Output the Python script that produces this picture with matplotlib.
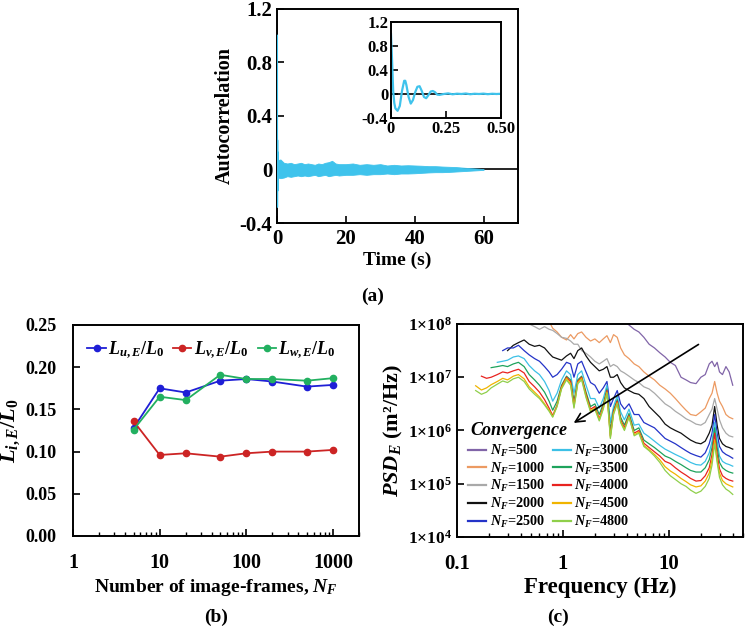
import numpy as np
import matplotlib
matplotlib.use("Agg")
import matplotlib.pyplot as plt
from matplotlib.ticker import FuncFormatter, LogLocator, NullFormatter, NullLocator

plt.rcParams['font.family'] = ['Liberation Serif', 'DejaVu Serif']
plt.rcParams['font.weight'] = 'bold'
plt.rcParams['axes.labelweight'] = 'bold'
plt.rcParams['mathtext.fontset'] = 'custom'
plt.rcParams['mathtext.rm'] = 'Liberation Serif:bold'
plt.rcParams['mathtext.it'] = 'Liberation Serif:italic:bold'
plt.rcParams['mathtext.bf'] = 'Liberation Serif:bold'
plt.rcParams['mathtext.default'] = 'it'
plt.rcParams['axes.linewidth'] = 1.4

# ---------------- (a) autocorrelation ----------------
# inset: short-lag autocorrelation
lag_t = [0, 0.005, 0.01, 0.015, 0.02, 0.03, 0.04, 0.05, 0.06, 0.065, 0.07, 0.08,
         0.09, 0.1, 0.11, 0.12, 0.13, 0.14, 0.15, 0.16, 0.17, 0.18, 0.19, 0.2,
         0.21, 0.22, 0.24, 0.26, 0.28, 0.3, 0.32, 0.34, 0.36, 0.38, 0.4, 0.42,
         0.44, 0.46, 0.48, 0.5]
lag_r = [1.0, 0.55, 0.05, -0.15, -0.24, -0.28, -0.2, 0.05, 0.22, 0.22, 0.15, -0.05,
         -0.16, -0.1, 0.03, 0.12, 0.13, 0.05, -0.05, -0.07, -0.02, 0.04, 0.05, 0.03,
         -0.01, -0.015, 0.0, 0.01, -0.005, 0.005, 0.0, 0.008, -0.004, 0.004, 0.0,
         0.006, -0.003, 0.004, 0.0, 0.004]

# envelope of the long-lag fluctuation band
band_t = [0.3, 1, 2, 3, 4, 5, 6, 7, 8, 9, 10, 11, 12, 13, 14, 15, 16, 17, 18, 20,
          22, 24, 26, 28, 30, 32, 34, 36, 38, 40, 42, 44, 46, 48, 50, 52, 54, 56, 58, 60]
band_up = [0.07, 0.075, 0.05, 0.045, 0.05, 0.04, 0.045, 0.05, 0.04, 0.045, 0.04,
           0.035, 0.045, 0.04, 0.05, 0.055, 0.065, 0.045, 0.04, 0.04, 0.045, 0.035,
           0.04, 0.035, 0.04, 0.03, 0.035, 0.03, 0.032, 0.03, 0.028, 0.025, 0.025,
           0.022, 0.02, 0.018, 0.014, 0.01, 0.007, 0.003]
band_lo = [-0.06, -0.065, -0.06, -0.05, -0.055, -0.05, -0.045, -0.05, -0.045, -0.05,
           -0.045, -0.04, -0.05, -0.045, -0.04, -0.05, -0.045, -0.04, -0.045, -0.04,
           -0.04, -0.035, -0.04, -0.035, -0.035, -0.03, -0.035, -0.03, -0.03, -0.028,
           -0.025, -0.022, -0.02, -0.02, -0.018, -0.015, -0.012, -0.009, -0.006, -0.003]

# ---------------- (b) integral length scale ----------------
n_frames = [5, 10, 20, 50, 100, 200, 500, 1000]
Lu = [0.128, 0.175, 0.170, 0.184, 0.186, 0.183, 0.177, 0.179]
Lv = [0.136, 0.096, 0.098, 0.094, 0.098, 0.100, 0.100, 0.102]
Lw = [0.126, 0.165, 0.161, 0.191, 0.186, 0.186, 0.184, 0.187]

# ---------------- (c) PSD (log10 values) ----------------
freq = [0.15, 0.17, 0.19, 0.21, 0.24, 0.27, 0.30, 0.34, 0.38, 0.43,
        0.48, 0.54, 0.60, 0.67, 0.74, 0.80, 0.88, 0.97, 1.08, 1.18,
        1.27, 1.38, 1.50, 1.65, 1.82, 2.0, 2.2, 2.4, 2.6, 2.8,
        3.0, 3.25, 3.5, 3.8, 4.2, 4.7, 5.2, 5.8, 6.5, 7.3,
        8.2, 9.2, 10.3, 11.5, 13, 14.5, 16, 18, 20, 22,
        24, 25.5, 27, 28.5, 30, 32, 34.5, 37, 40]

psd_500 = [8.4, 8.35, 8.4, 8.3, 8.35, 8.3, 8.25, 8.2, 8.25, 8.2,
           8.15, 8.1, 8.05, 7.98, 7.9, 7.85, 7.75, 7.62, 7.55, 7.46,
           7.38, 7.28, 7.22, 7.0, 6.95, 6.9, 6.88, 7.0, 7.05, 7.25,
           7.3, 7.2, 7.28, 7.1, 7.05, 7.2, 7.1, 6.85]
psd_1000 = [8.05, 7.92, 7.85, 7.75, 7.7, 7.8,
            7.72, 7.82, 7.85, 7.75, 7.68, 7.72, 7.65, 7.72, 7.78, 7.65,
            7.8, 7.75, 7.55, 7.42, 7.35, 7.25, 7.2, 7.1, 7.02, 6.95,
            6.85, 6.78, 6.7, 6.6, 6.48, 6.38, 6.3, 6.28, 6.35, 6.42,
            6.6, 6.7, 6.92, 6.7, 6.55, 6.45, 6.3, 6.25, 6.22]
psd_1500 = [8.0, 7.95, 7.9, 7.95, 7.9, 7.88, 7.82, 7.75, 7.73,
            7.68, 7.62, 7.62, 7.5, 7.45, 7.38, 7.3, 7.25, 7.3, 7.35, 7.2,
            7.24, 7.2, 7.12, 7.08, 7.02, 6.95, 6.9, 6.82, 6.78, 6.7,
            6.6, 6.5, 6.44, 6.36, 6.29, 6.22, 6.18, 6.12, 6.1, 6.15,
            6.3, 6.4, 6.6, 6.4, 6.2, 6.05, 5.95, 5.9, 5.88]
psd_2000 = [7.5, 7.6, 7.65, 7.7,
            7.62, 7.58, 7.6, 7.55, 7.45, 7.38, 7.35, 7.32, 7.4, 7.45,
            7.35, 7.5, 7.55, 7.4, 7.28, 7.2, 7.12, 7.15, 7.2, 7.0,
            7.0, 7.05, 6.9, 6.8, 6.75, 6.7, 6.68, 6.6, 6.45, 6.35,
            6.25, 6.12, 6.05, 6.0, 5.95, 5.88, 5.82, 5.77, 5.75, 5.8,
            5.95, 6.1, 6.45, 6.1, 5.85, 5.75, 5.7, 5.68, 5.65]
psd_2500 = [7.5, 7.55, 7.55, 7.6, 7.5,
            7.42, 7.35, 7.3, 7.2, 7.1, 7.0, 7.05, 7.15, 7.28, 7.25,
            7.0, 7.25, 7.3, 7.1, 6.9, 6.85, 6.7, 6.8, 6.92, 6.45,
            6.6, 6.75, 6.5, 6.4, 6.5, 6.3, 6.3, 6.15, 6.1, 6.05,
            5.95, 5.85, 5.8, 5.75, 5.68, 5.62, 5.57, 5.53, 5.5, 5.58,
            5.75, 5.95, 6.3, 5.95, 5.7, 5.6, 5.55, 5.52, 5.48]
psd_3000 = [7.28, 7.3, 7.32, 7.38, 7.4, 7.35,
            7.22, 7.12, 7.05, 6.92, 6.75, 6.55, 6.7, 6.95, 7.12, 7.05,
            6.7, 7.05, 7.12, 6.85, 6.6, 6.6, 6.42, 6.6, 6.85, 6.15,
            6.45, 6.65, 6.35, 6.2, 6.4, 6.1, 6.12, 5.95, 5.88, 5.8,
            5.72, 5.65, 5.6, 5.55, 5.5, 5.45, 5.4, 5.36, 5.35, 5.42,
            5.58, 5.8, 6.15, 5.8, 5.52, 5.42, 5.38, 5.36, 5.33]
psd_3500 = [7.18, 7.2, 7.22, 7.2, 7.25, 7.28, 7.2,
            7.05, 6.95, 6.85, 6.72, 6.55, 6.38, 6.55, 6.85, 7.02, 6.95,
            6.55, 6.95, 7.02, 6.72, 6.45, 6.5, 6.3, 6.5, 6.78, 6.0,
            6.38, 6.58, 6.25, 6.1, 6.32, 6.0, 6.05, 5.82, 5.75, 5.68,
            5.6, 5.52, 5.48, 5.42, 5.36, 5.3, 5.25, 5.22, 5.22, 5.3,
            5.45, 5.68, 6.05, 5.68, 5.4, 5.3, 5.25, 5.22, 5.2]
psd_4000 = [7.02, 6.98, 7.0, 7.05, 7.1, 7.08, 7.12, 7.15, 7.08,
            6.92, 6.82, 6.72, 6.58, 6.42, 6.28, 6.48, 6.82, 7.0, 6.92,
            6.48, 6.92, 7.0, 6.68, 6.4, 6.45, 6.22, 6.45, 6.75, 5.9,
            6.35, 6.55, 6.2, 6.05, 6.28, 5.95, 6.0, 5.76, 5.68, 5.6,
            5.52, 5.42, 5.38, 5.3, 5.22, 5.16, 5.1, 5.05, 5.06, 5.15,
            5.3, 5.55, 5.95, 5.55, 5.28, 5.15, 5.1, 5.07, 5.05]
psd_4500 = [6.84, 6.76, 6.8, 6.86, 6.92, 6.98, 6.95, 7.02, 7.05, 6.97,
            6.82, 6.72, 6.63, 6.5, 6.38, 6.26, 6.46, 6.8, 6.98, 6.88,
            6.44, 6.9, 6.98, 6.64, 6.37, 6.42, 6.2, 6.42, 6.72, 5.87,
            6.32, 6.52, 6.17, 6.02, 6.26, 5.92, 5.97, 5.72, 5.64, 5.55,
            5.45, 5.32, 5.24, 5.18, 5.1, 5.04, 4.98, 4.94, 4.96, 5.05,
            5.2, 5.45, 5.82, 5.45, 5.2, 5.06, 5.0, 4.97, 4.94]
psd_4800 = [6.75, 6.68, 6.72, 6.8, 6.87, 6.93, 6.9, 6.97, 7.0, 6.92,
            6.78, 6.68, 6.6, 6.48, 6.36, 6.25, 6.45, 6.78, 6.95, 6.85,
            6.42, 6.88, 6.95, 6.62, 6.35, 6.4, 6.18, 6.4, 6.7, 5.85,
            6.3, 6.5, 6.15, 6.0, 6.25, 5.9, 5.95, 5.7, 5.62, 5.52,
            5.4, 5.25, 5.15, 5.08, 5.0, 4.95, 4.88, 4.82, 4.86, 4.95,
            5.1, 5.35, 5.75, 5.4, 5.12, 4.98, 4.9, 4.86, 4.8]

psd_labels = ['500', '1000', '1500', '2000', '2500', '3000', '3500', '4000', '4500', '4800']
psd_values = [psd_500, psd_1000, psd_1500, psd_2000, psd_2500,
              psd_3000, psd_3500, psd_4000, psd_4500, psd_4800]
psd_colors = ['#8165a8', '#ec9a62', '#a9a9a9', '#111111', '#2433c8',
              '#3cc0e6', '#1ea35c', '#e8231f', '#f0b400', '#8fcf4a']

cyan = '#3fc3ec'

fig = plt.figure(figsize=(7.46, 6.28), dpi=100)


def style(ax, xsize=13, ysize=13):
    ax.tick_params(direction='in', width=1.2, length=5, top=False, right=False)
    ax.tick_params(axis='x', labelsize=xsize)
    ax.tick_params(axis='y', labelsize=ysize)
    ax.tick_params(which='minor', direction='in', width=1.0, length=3)
    for lab in ax.get_xticklabels() + ax.get_yticklabels():
        lab.set_fontweight('bold')


def acf_fmt(v, _):
    if abs(v) < 1e-9:
        return '0'
    return f'{v:.1f}'


# (a)
axa = fig.add_axes([0.3713, 0.6449, 0.3231, 0.3408])
axa.axhline(0, color='black', lw=1.2, zorder=1)
axa.fill_between(band_t, band_lo, band_up, color=cyan, lw=0.6, zorder=2)
axa.plot(lag_t, lag_r, color=cyan, lw=1.5, zorder=3)
axa.set_xlim(0, 70)
axa.set_ylim(-0.4, 1.2)
axa.set_xticks([0, 20, 40, 60])
axa.set_yticks([-0.4, 0, 0.4, 0.8, 1.2])
axa.yaxis.set_major_formatter(FuncFormatter(acf_fmt))
axa.set_xlabel('Time (s)', fontsize=14, labelpad=2)
axa.set_ylabel('Autocorrelation', fontsize=14.5, labelpad=3)
style(axa, 15, 15)
axa.tick_params(axis='x', pad=4)

axi = fig.add_axes([0.5241, 0.8121, 0.1475, 0.1529])
axi.axhline(0, color='black', lw=1.2, zorder=1)
axi.plot(lag_t, lag_r, color=cyan, lw=1.6, zorder=2)
axi.set_xlim(0, 0.5)
axi.set_ylim(-0.4, 1.2)
axi.set_xticks([0, 0.25, 0.5])
axi.set_xticklabels(['0', '0.25', '0.50'])
axi.set_yticks([-0.4, 0, 0.4, 0.8, 1.2])
axi.yaxis.set_major_formatter(FuncFormatter(acf_fmt))
style(axi, 12, 12)
axi.tick_params(pad=2)

fig.text(373 / 746, 1 - 296 / 628, '(a)', ha='center', va='center', fontsize=14, fontweight='bold')

# (b)
axb = fig.add_axes([0.0979, 0.1465, 0.3834, 0.336])
axb.plot(n_frames, Lu, '-o', color='#1f1fd6', lw=1.3, ms=4.5, label='$L_{u,E}/L_0$')
axb.plot(n_frames, Lv, '-o', color='#cc2424', lw=1.3, ms=4.5, label='$L_{v,E}/L_0$')
axb.plot(n_frames, Lw, '-o', color='#22b060', lw=1.3, ms=4.5, label='$L_{w,E}/L_0$')
axb.set_xscale('log')
axb.set_xlim(1, 2000)
axb.set_ylim(0, 0.25)
axb.set_xticks([1, 10, 100, 1000])
axb.set_xticklabels(['1', '10', '100', '1000'])
axb.xaxis.set_minor_locator(LogLocator(base=10, subs=np.arange(2, 10), numticks=20))
axb.xaxis.set_minor_formatter(NullFormatter())
axb.set_yticks([0, 0.05, 0.10, 0.15, 0.20, 0.25])
axb.yaxis.set_major_formatter(FuncFormatter(lambda v, _: f'{v:.2f}'))
axb.set_xlabel('Number of image-frames, $N_F$', fontsize=14, labelpad=3)
axb.set_ylabel('$L_{i,E}/L_0$', fontsize=16, labelpad=2)
style(axb, 14.5, 13)
axb.tick_params(axis='x', pad=12)
axb.tick_params(axis='y', pad=12)
axb.legend(loc='upper left', bbox_to_anchor=(0.0, 1.0), ncol=3, frameon=False,
           fontsize=13, handlelength=1.0, handletextpad=0.15, columnspacing=0.5,
           borderaxespad=0.4)

fig.text(216 / 746, 1 - 617 / 628, '(b)', ha='center', va='center', fontsize=14, fontweight='bold')

# (c)
axc = fig.add_axes([0.6126, 0.1449, 0.3834, 0.3392])
for lab, vals, col in zip(psd_labels, psd_values, psd_colors):
    axc.plot(freq[-len(vals):], 10 ** np.array(vals), color=col, lw=0.9,
             label='$N_F$=' + lab)
axc.set_xscale('log')
axc.set_yscale('log')
axc.set_xlim(0.1, 50)
axc.set_ylim(1e4, 1e8)
axc.set_xticks([0.1, 1, 10])
axc.set_xticklabels(['0.1', '1', '10'])
axc.xaxis.set_minor_locator(LogLocator(base=10, subs=np.arange(2, 10), numticks=20))
axc.xaxis.set_minor_formatter(NullFormatter())
axc.set_yticks([1e4, 1e5, 1e6, 1e7, 1e8])
axc.yaxis.set_major_formatter(FuncFormatter(
    lambda v, _: r'1$\times$10$^{\mathrm{%d}}$' % round(np.log10(v))))
axc.yaxis.set_minor_locator(NullLocator())
axc.set_xlabel('Frequency (Hz)', fontsize=16.5, labelpad=2)
axc.set_ylabel('$PSD_E$ (m²/Hz)', fontsize=16, labelpad=2)
style(axc, 15, 12.5)
axc.tick_params(axis='x', pad=12)
axc.annotate('', xy=(1.2, 1.3e6), xytext=(20, 4.4e7),
             arrowprops=dict(arrowstyle='->', color='black', lw=1.2, mutation_scale=16))
axc.text(0.38, 1.0e6, 'Convergence', fontsize=13, fontweight='bold', style='italic',
         ha='center', va='center')
leg = axc.legend(loc='lower left', bbox_to_anchor=(0.0, -0.02), ncol=2, frameon=False,
                 fontsize=10.2, handlelength=1.25, handletextpad=0.25, columnspacing=0.6,
                 labelspacing=0.12, borderaxespad=0.4)
for line in leg.get_lines():
    line.set_linewidth(1.6)

fig.text(558 / 746, 1 - 617 / 628, '(c)', ha='center', va='center', fontsize=14, fontweight='bold')

fig.savefig('out.png', dpi=100)
